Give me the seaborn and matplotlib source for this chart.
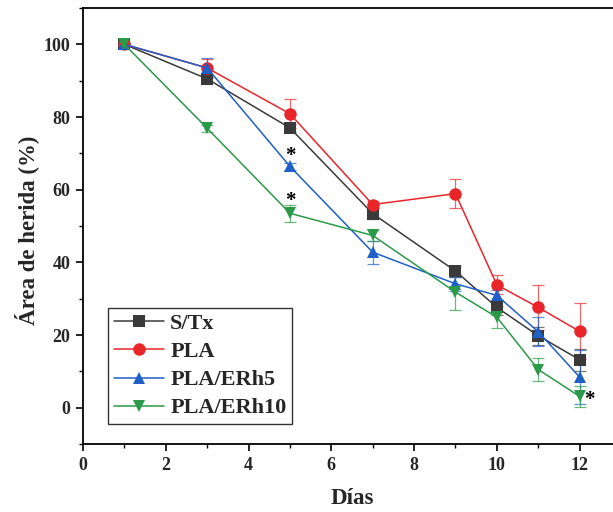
import numpy as np
import pandas as pd
import matplotlib
matplotlib.use("Agg")
import matplotlib.pyplot as plt
import seaborn as sns
from matplotlib.ticker import MultipleLocator

sns.set_theme(style="ticks")
plt.rcParams['font.family'] = ['Liberation Serif', 'DejaVu Serif']
plt.rcParams['font.weight'] = 'bold'

days = [1, 3, 5, 7, 9, 10, 11, 12]
series_names = ["S/Tx", "PLA", "PLA/ERh5", "PLA/ERh10"]
stx = [100, 90.5, 77.0, 53.4, 37.6, 27.6, 19.8, 13.2]
pla = [100, 93.5, 80.9, 55.9, 58.9, 33.8, 27.6, 21.0]
erh5 = [100, 93.5, 66.4, 42.8, 34.1, 30.9, 20.9, 8.4]
erh10 = [100, 76.9, 53.5, 47.4, 31.8, 24.9, 10.5, 3.1]
stx_err = [0.5, 1.0, 1.0, 1.5, 1.5, 2.0, 2.5, 3.0]
pla_err = [0.5, 2.5, 4.0, 1.0, 4.0, 2.6, 6.2, 7.7]
erh5_err = [0.5, 2.7, 1.0, 3.2, 2.0, 1.5, 4.0, 7.5]
erh10_err = [0.5, 1.0, 2.3, 1.5, 5.0, 3.0, 3.2, 3.0]
colors = ["#3a3a3a", "#e8262a", "#1f5fc8", "#2b9a48"]
markers = ["s", "o", "^", "v"]
star_x = [5, 5, 12.24]
star_y = [69.3, 57.0, 2.0]

values = [stx, pla, erh5, erh10]
errs = [stx_err, pla_err, erh5_err, erh10_err]
df = pd.DataFrame({
    "Días": np.tile(days, 4),
    "value": np.concatenate(values),
    "Grupo": np.repeat(series_names, len(days)),
})

fig = plt.figure(figsize=(6.13, 5.12), dpi=100)
ax = fig.add_axes([83/613, 68/512, 538/613, 436/512])

for name, vals, e, c in zip(series_names, values, errs, colors):
    ax.errorbar(days, vals, yerr=e, fmt="none", ecolor=c, elinewidth=0.9,
                capsize=4, capthick=0.9, alpha=0.7, zorder=2)

sns.lineplot(data=df, x="Días", y="value", hue="Grupo", style="Grupo",
             palette=dict(zip(series_names, colors)),
             markers=dict(zip(series_names, markers)),
             dashes=False, markersize=9, markeredgewidth=0, linewidth=1.1,
             ax=ax, zorder=3)

for sx, sy in zip(star_x, star_y):
    ax.text(sx, sy, "*", ha="center", va="center", fontsize=15,
            fontweight="bold", color="black")

ax.set_xlim(0, 13)
ax.set_ylim(-10, 110)
ax.xaxis.set_major_locator(MultipleLocator(2))
ax.xaxis.set_minor_locator(MultipleLocator(1))
ax.yaxis.set_major_locator(MultipleLocator(20))
ax.yaxis.set_minor_locator(MultipleLocator(10))
ax.set_yticks([0, 20, 40, 60, 80, 100])
ax.tick_params(which="major", direction="out", length=5, width=1.2,
               labelsize=13, pad=4, color="black")
ax.tick_params(which="minor", direction="out", length=3, width=1.0, color="black")
for lab in ax.get_xticklabels() + ax.get_yticklabels():
    lab.set_fontweight("bold")
for sp in ax.spines.values():
    sp.set_linewidth(1.3)
    sp.set_color("black")

ax.set_xlabel("Días", fontsize=16.5, fontweight="bold")
ax.set_ylabel("Área de herida (%)", fontsize=16.5, fontweight="bold")
ax.xaxis.set_label_coords(0.5, (444-488)/436)
ax.yaxis.set_label_coords((39-83)/538, (444-230)/436)

leg = ax.legend(loc="lower left", bbox_to_anchor=((108-83)/538, (444-424)/436),
                fontsize=16, frameon=True, fancybox=False, edgecolor="black",
                handlelength=2.25, borderpad=0.25, labelspacing=0.34,
                handletextpad=0.3, borderaxespad=0)
leg.get_frame().set_linewidth(1.0)
for t in leg.get_texts():
    t.set_fontweight("bold")

fig.savefig("out.png", dpi=100)
